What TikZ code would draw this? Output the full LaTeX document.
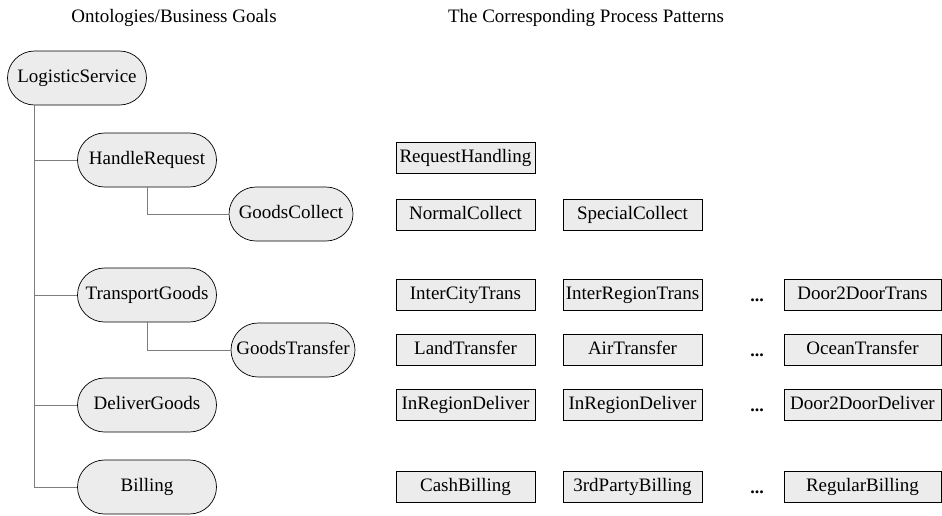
\documentclass[tikz,border=0pt]{standalone}
\usepackage{fontspec}
\setmainfont{Liberation Serif}
\usetikzlibrary{positioning}
\definecolor{shade}{RGB}{236,236,236}
\definecolor{linegray}{RGB}{125,125,125}

\begin{document}
\begin{tikzpicture}[x=1pt, y=-1pt,
  goal/.style={draw=black, fill=shade, rounded corners=27pt, line width=0.7pt,
    minimum width=139pt, minimum height=54pt, inner xsep=0pt,
    text height=13pt, text depth=4pt,
    font=\fontsize{19}{22}\selectfont},
  subgoal/.style={goal, minimum width=124pt},
  pattern/.style={draw=black, fill=shade, line width=0.7pt,
    minimum width=139pt, minimum height=31pt, inner xsep=0pt,
    text height=13pt, text depth=4pt,
    font=\fontsize{19}{22}\selectfont},
  wide/.style={pattern, minimum width=157pt},
  dots/.style={font=\fontsize{18}{22}\selectfont\bfseries,
    text height=13pt, text depth=4pt},
  heading/.style={text height=13pt, text depth=4pt,
    font=\fontsize{19}{22}\selectfont},
  tree/.style={draw=linegray, line width=0.8pt}
]
\useasboundingbox (0,0) rectangle (942,515);

\node[heading] (left) at (174,18) {Ontologies/Business Goals};
\node[heading] (right) at (586,18) {The Corresponding Process Patterns};

% goal tree
\node[goal] (ls) at (77,78) {LogisticService};
\node[goal] (hr) at (147,160) {HandleRequest};
\node[subgoal] (gc) at (291,214) {GoodsCollect};
\node[goal] (tg) at (147,295) {TransportGoods};
\node[subgoal] (gt) at (293,350) {GoodsTransfer};
\node[goal] (dg) at (147,405) {DeliverGoods};
\node[goal] (bl) at (147,487) {Billing};

\foreach \g in {hr,tg,dg,bl}
  \draw[tree] ([xshift=27pt]ls.south west) |- (\g);
\draw[tree] (hr.south) |- (gc);
\draw[tree] (tg.south) |- (gt);

% process patterns
\node[pattern] (rh) at (465.5,158) {RequestHandling};
\node[pattern] (nc) at (465.5,215) {NormalCollect};
\node[pattern] (sc) at (632.5,215) {SpecialCollect};

\node[pattern] (ict) at (465.5,295) {InterCityTrans};
\node[pattern] (irt) at (632.5,295) {InterRegionTrans};
\node[dots] (d1) at (757,297) {...};
\node[wide] (ddt) at (862.5,295) {Door2DoorTrans};

\node[pattern] (lt) at (465.5,350) {LandTransfer};
\node[pattern] (at) at (632.5,350) {AirTransfer};
\node[dots] (d2) at (757,352) {...};
\node[wide] (ot) at (862.5,350) {OceanTransfer};

\node[pattern] (ird) at (465.5,405) {InRegionDeliver};
\node[pattern] (ird2) at (632.5,405) {InRegionDeliver};
\node[dots] (d3) at (757,407) {...};
\node[wide] (ddd) at (862.5,405) {Door2DoorDeliver};

\node[pattern] (cb) at (465.5,487) {CashBilling};
\node[pattern] (tpb) at (632.5,487) {3rdPartyBilling};
\node[dots] (d4) at (757,489) {...};
\node[wide] (rb) at (862.5,487) {RegularBilling};
\end{tikzpicture}
\end{document}
